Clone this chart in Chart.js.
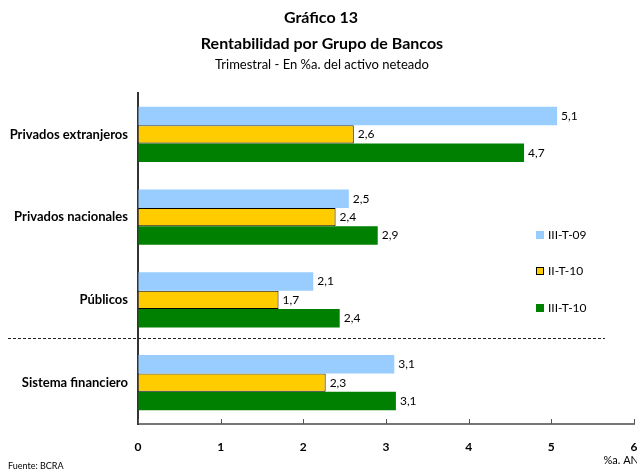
<!DOCTYPE html>
<html>
<head>
<meta charset="utf-8">
<script src="https://cdn.jsdelivr.net/npm/chart.js@4"></script>
<style>
  html, body { margin: 0; padding: 0; background: #fff; }
  #wrap { position: relative; width: 637px; height: 472px; }
</style>
</head>
<body>
<div id="wrap"><canvas id="chart" width="637" height="472"></canvas></div>
<script>
const categories = ["Privados extranjeros", "Privados nacionales", "Públicos", "Sistema financiero"];
const seriesNames = ["III-T-09", "II-T-10", "III-T-10"];
const q3_09 = [5.07, 2.55, 2.12, 3.10];
const q2_10 = [2.61, 2.39, 1.70, 2.27];
const q3_10 = [4.67, 2.90, 2.44, 3.12];
const xTicks = [0, 1, 2, 3, 4, 5, 6];

const FONT = "Lato, 'Open Sans', sans-serif";

const fmt = v => v.toFixed(1).replace(".", ",");

// titles, value labels, separator, inner ticks and legend
const extras = {
  id: "extras",
  afterDraw(chart) {
    const ctx = chart.ctx;
    const xs = chart.scales.x, ys = chart.scales.y;
    const area = chart.chartArea;
    ctx.save();

    // titles
    ctx.fillStyle = "#000";
    ctx.textAlign = "center";
    ctx.textBaseline = "middle";
    ctx.font = "bold 16px " + FONT;
    ctx.fillText("Gráfico 13", 321, 18);
    ctx.font = "bold 16px " + FONT;
    ctx.fillText("Rentabilidad por Grupo de Bancos", 322, 44);
    ctx.font = "13px " + FONT;
    ctx.fillText("Trimestral - En %a. del activo neteado", 322, 65);

    // inner tick marks on x axis
    ctx.strokeStyle = "#555";
    ctx.lineWidth = 1;
    xTicks.forEach(t => {
      const px = Math.round(xs.getPixelForValue(t)) + 0.5;
      ctx.beginPath();
      ctx.moveTo(px, area.bottom);
      ctx.lineTo(px, area.bottom - 5);
      ctx.stroke();
    });

    // dashed separator before the system total
    const ySep = (ys.getPixelForTick(2) + ys.getPixelForTick(3)) / 2;
    ctx.setLineDash([3, 2]);
    ctx.strokeStyle = "#222";
    ctx.beginPath();
    ctx.moveTo(8, Math.round(ySep) - 2.5);
    ctx.lineTo(605, Math.round(ySep) - 2.5);
    ctx.stroke();
    ctx.setLineDash([]);

    // value labels
    ctx.font = "12px " + FONT;
    ctx.textAlign = "left";
    ctx.fillStyle = "#000";
    chart.data.datasets.forEach((ds, i) => {
      chart.getDatasetMeta(i).data.forEach((bar, j) => {
        ctx.fillText(fmt(ds.data[j]), bar.x + 4, bar.y);
      });
    });

    // legend
    const legY = [235, 271, 308];
    ctx.font = "12px " + FONT;
    chart.data.datasets.forEach((ds, i) => {
      ctx.fillStyle = ds.backgroundColor;
      ctx.fillRect(536, legY[i] - 4, 8, 8);
      if (ds.borderWidth) {
        ctx.strokeStyle = "#000";
        ctx.lineWidth = 1;
        ctx.strokeRect(536.5, legY[i] - 3.5, 7, 7);
      }
      ctx.fillStyle = "#000";
      ctx.fillText(ds.label, 548, legY[i]);
    });

    // unit and source
    ctx.font = "11px " + FONT;
    ctx.textAlign = "right";
    ctx.fillText("%a. AN", 639, 460);
    ctx.font = "9px " + FONT;
    ctx.textAlign = "left";
    ctx.fillText("Fuente: BCRA", 8, 466);

    ctx.restore();
  }
};

new Chart(document.getElementById("chart"), {
  type: "bar",
  data: {
    labels: categories,
    datasets: [
      { label: seriesNames[0], data: q3_09, backgroundColor: "#99CCFF", borderWidth: 0 },
      { label: seriesNames[1], data: q2_10, backgroundColor: "#FFCC00", borderColor: "#000", borderWidth: 1 },
      { label: seriesNames[2], data: q3_10, backgroundColor: "#008000", borderWidth: 0 }
    ]
  },
  options: {
    indexAxis: "y",
    responsive: false,
    animation: false,
    devicePixelRatio: 1,
    categoryPercentage: 0.67,
    barPercentage: 1.0,
    layout: { padding: { top: 93, right: 3, left: 0, bottom: 0 } },
    plugins: {
      legend: { display: false },
      title: { display: false },
      tooltip: { enabled: false }
    },
    scales: {
      x: {
        min: 0,
        max: 6,
        ticks: {
          stepSize: 1,
          padding: 16,
          color: "#000",
          font: { family: FONT, size: 12, weight: "bold" }
        },
        grid: { display: true, drawOnChartArea: false, drawTicks: false },
        border: { display: true, color: "#777", width: 2 },
        afterFit: s => { s.height = 48; s.paddingRight = 0; s.paddingLeft = 0; }
      },
      y: {
        ticks: {
          padding: 10,
          color: "#000",
          font: { family: FONT, size: 13, weight: "bold" }
        },
        grid: { display: false, drawTicks: false },
        border: { display: true, color: "#333", width: 2 },
        afterFit: s => { s.width = 138; s.paddingTop = 0; s.paddingBottom = 0; }
      }
    }
  },
  plugins: [extras]
});
</script>
</body>
</html>
